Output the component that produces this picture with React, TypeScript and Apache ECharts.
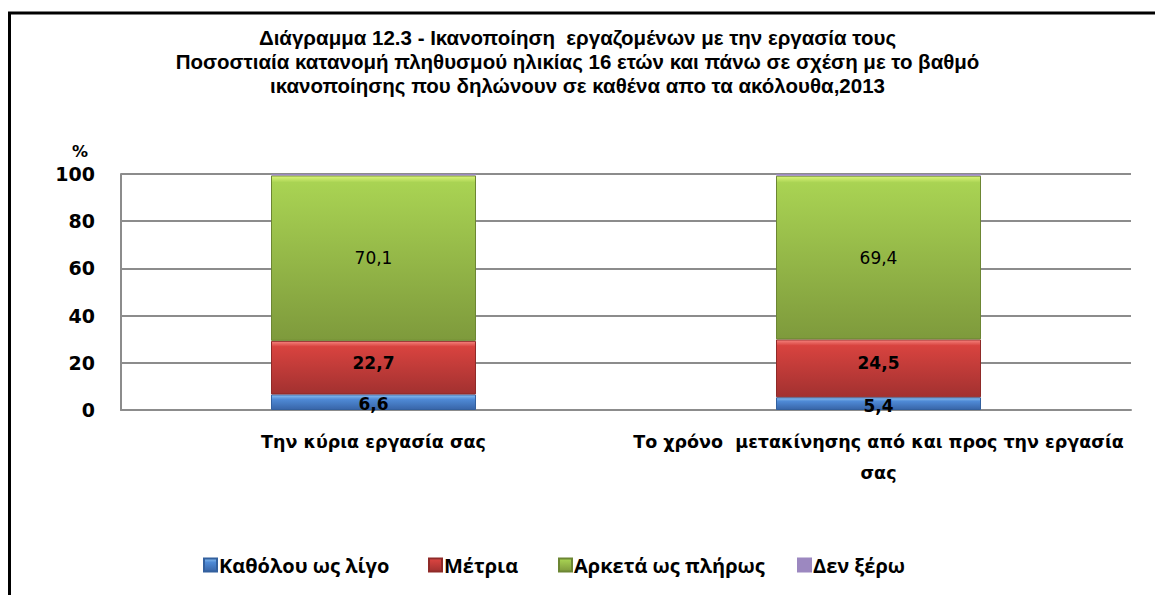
import React, { useEffect, useRef } from "react";
import * as echarts from "echarts";

const categories = [
  "Την κύρια εργασία σας",
  "Το χρόνο  μετακίνησης από και προς την εργασία\nσας",
];
const seriesNames = ["Καθόλου ως λίγο", "Μέτρια", "Αρκετά ως πλήρως", "Δεν ξέρω"];
const notAtAll = [6.6, 5.4];
const moderate = [22.7, 24.5];
const quiteFully = [70.1, 69.4];
const dontKnow = [0.6, 0.7];
const yMin = 0;
const yMax = 100;
const yStep = 20;

const titleLines = [
  "Διάγραμμα 12.3 - Ικανοποίηση  εργαζομένων με την εργασία τους",
  "Ποσοστιαία κατανομή πληθυσμού ηλικίας 16 ετών και πάνω σε σχέση με το βαθμό",
  "ικανοποίησης που δηλώνουν σε καθένα απο τα ακόλουθα,2013",
];

const grad = (hi: string, top: string, bottom: string, hiStop: number) =>
  new echarts.graphic.LinearGradient(0, 0, 0, 1, [
    { offset: 0, color: hi },
    { offset: hiStop, color: top },
    { offset: 1, color: bottom },
  ]);

const fmt = (p: any) => String(p.value).replace(".", ",");

export default function App() {
  const ref = useRef<HTMLDivElement>(null);
  useEffect(() => {
    if (!ref.current) return;
    const chart = echarts.init(ref.current, undefined, { renderer: "svg" });
    const labelFont = "DejaVu Sans, Verdana, sans-serif";
    const narrowFont = "'Open Sans', 'Noto Sans', sans-serif";
    const titleFont = "'Liberation Sans', Arial, sans-serif";
    const legendLefts = [203, 428, 558, 797];
    const titleTops = [26, 50, 74];
    chart.setOption({
      animation: false,
      backgroundColor: "#ffffff",
      title: titleLines.map((t, i) => ({
        text: t,
        left: "center",
        top: titleTops[i],
        padding: 0,
        textStyle: {
          fontFamily: titleFont,
          fontWeight: "bold",
          fontSize: 20.5,
          lineHeight: 22,
          color: "#000",
        },
      })),
      legend: seriesNames.map((n, i) => ({
        data: [n],
        left: legendLefts[i],
        top: 555,
        padding: 0,
        icon: "rect",
        itemWidth: 13,
        itemHeight: 13,
        textStyle: {
          fontFamily: narrowFont,
          fontWeight: "bold",
          fontSize: 20,
          color: "#000",
          padding: [0, 0, 0, -3],
        },
      })),
      grid: { left: 121, right: 24, top: 174, bottom: 185 },
      xAxis: {
        type: "category",
        data: categories,
        axisLine: { show: true, lineStyle: { color: "#8c8c8c", width: 2 } },
        axisTick: { show: false },
        axisLabel: {
          interval: 0,
          margin: 16,
          fontFamily: labelFont,
          fontWeight: "bold",
          fontSize: 17.5,
          lineHeight: 31,
          color: "#000",
        },
      },
      yAxis: {
        type: "value",
        min: yMin,
        max: yMax,
        interval: yStep,
        axisLine: { show: true, lineStyle: { color: "#8c8c8c", width: 2 } },
        axisTick: { show: false },
        splitLine: { lineStyle: { color: "#8c8c8c", width: 2 } },
        axisLabel: {
          margin: 26,
          fontFamily: labelFont,
          fontWeight: "bold",
          fontSize: 19,
          color: "#000",
        },
      },
      graphic: [
        {
          type: "rect",
          shape: { x: 9.5, y: 13, width: 1300, height: 800 },
          style: { fill: "none", stroke: "#000", lineWidth: 3 },
          silent: true,
        },
        {
          type: "text",
          left: 72,
          top: 143,
          style: {
            text: "%",
            fontFamily: labelFont,
            fontWeight: "bold",
            fontSize: 16,
            fill: "#000",
          },
        },
      ],
      series: [
        {
          name: seriesNames[0],
          type: "bar",
          stack: "total",
          barWidth: 205,
          data: notAtAll,
          itemStyle: {
            color: grad("#8cc0f0", "#4f8ad6", "#3865a8", 0.3),
            borderColor: "#33609e",
            borderWidth: 1,
          },
          label: {
            show: true,
            position: "inside",
            offset: [0, 2],
            formatter: fmt,
            fontFamily: labelFont,
            fontWeight: "bold",
            fontSize: 17,
            color: "#000",
          },
        },
        {
          name: seriesNames[1],
          type: "bar",
          stack: "total",
          data: moderate,
          itemStyle: {
            color: grad("#f5847e", "#d8433f", "#a23130", 0.1),
            borderColor: "#8f2a28",
            borderWidth: 1,
          },
          label: {
            show: true,
            position: "inside",
            offset: [0, -5],
            formatter: fmt,
            fontFamily: labelFont,
            fontWeight: "bold",
            fontSize: 17,
            color: "#000",
          },
        },
        {
          name: seriesNames[2],
          type: "bar",
          stack: "total",
          data: quiteFully,
          itemStyle: {
            color: grad("#dcf57a", "#a9d353", "#7e9a3c", 0.04),
            borderColor: "#6c8633",
            borderWidth: 1,
          },
          label: {
            show: true,
            position: "inside",
            formatter: fmt,
            fontFamily: labelFont,
            fontSize: 17,
            color: "#000",
          },
        },
        {
          name: seriesNames[3],
          type: "bar",
          stack: "total",
          data: dontKnow,
          itemStyle: {
            color: "#9c88c0",
            borderColor: "#9c88c0",
            borderWidth: 1,
          },
          label: { show: false },
        },
      ],
    });
    return () => chart.dispose();
  }, []);
  return (
    <div
      ref={ref}
      style={{ position: "fixed", left: 0, top: 0, width: 1155, height: 595 }}
    />
  );
}
